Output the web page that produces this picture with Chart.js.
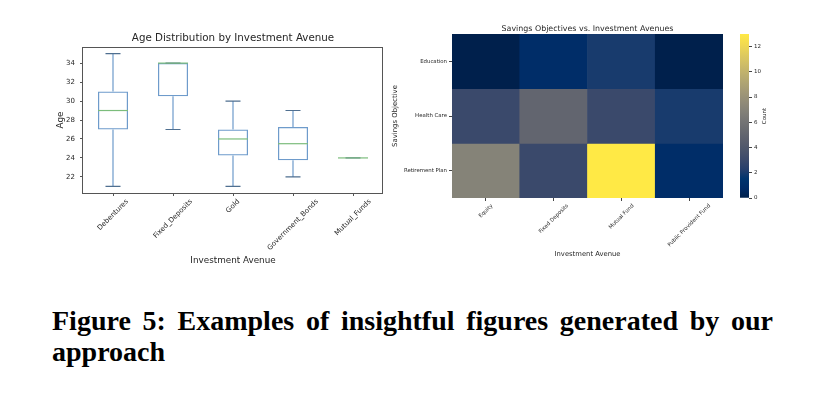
<!DOCTYPE html>
<html>
<head>
<meta charset="utf-8">
<script src="https://cdn.jsdelivr.net/npm/chart.js@4/dist/chart.umd.min.js"></script>
<style>
  body { margin: 0; background: #fff; width: 819px; height: 397px; overflow: hidden; position: relative; }
  canvas { position: absolute; top: 0; }
  #boxChart { left: 0; }
  #heatChart { left: 390px; }
  #cbarChart { left: 730px; }
  .caption {
    position: absolute; left: 52px; width: 721px;
    font-family: 'Liberation Serif', serif; font-weight: bold; font-size: 28px; line-height: 28px;
    white-space: nowrap; color: #000;
  }
</style>
</head>
<body>
<canvas id="boxChart" width="400" height="275"></canvas>
<canvas id="heatChart" width="340" height="275"></canvas>
<canvas id="cbarChart" width="89" height="275"></canvas>
<div class="caption" id="capLine1" style="top:307px"><span>Figure 5: Examples of insightful figures generated by our</span></div>
<div class="caption" id="capLine2" style="top:338px"><span>approach</span></div>

<script>
// ===== DATA =====
const boxCategories = ['Debentures', 'Fixed_Deposits', 'Gold', 'Government_Bonds', 'Mutual_Funds'];
const ageMin    = [21, 27,   21,    22,    24];
const ageQ1     = [27, 30.5, 24.25, 23.75, 24];
const ageMedian = [29, 34,   26,    25.5,  24];
const ageQ3     = [31, 34,   27,    27.25, 24];
const ageMax    = [35, 34,   30,    29,    24];
const ageTicks  = [22, 24, 26, 28, 30, 32, 34];

const avenues = ['Equity', 'Fixed Deposits', 'Mutual Fund', 'Public Provident Fund'];
const objectives = ['Education', 'Health Care', 'Retirement Plan'];
const countsEducation  = [0, 1, 2, 0];
const countsHealthCare = [3, 5, 3, 2];
const countsRetirement = [7, 3, 13, 1];
const countTicks = [0, 2, 4, 6, 8, 10, 12];

const countRows = [countsEducation, countsHealthCare, countsRetirement];
const countMax = Math.max(...countRows.flat());

// ===== CIVIDIS COLORMAP =====
const cividisStops = [
    [0, 32, 76], [0, 42, 102], [0, 52, 110], [39, 63, 108], [60, 74, 107], [76, 85, 107],
    [91, 95, 109], [104, 106, 112], [117, 117, 117], [131, 129, 120], [146, 140, 120],
    [161, 152, 118], [176, 165, 114], [192, 177, 109], [209, 191, 102], [225, 204, 92],
    [243, 219, 79], [255, 233, 69]
];
function cividis(t) {
    t = Math.min(1, Math.max(0, t));
    const pos = t * (cividisStops.length - 1);
    const i = Math.min(Math.floor(pos), cividisStops.length - 2);
    const f = pos - i;
    const a = cividisStops[i], b = cividisStops[i + 1];
    const c = a.map((v, k) => Math.round(v + (b[k] - v) * f));
    return `rgb(${c[0]},${c[1]},${c[2]})`;
}

const TEXT = '#262626';
const FONT = 'DejaVu Sans';

// ===== PLUGINS =====
// Title centred over the plot area
const plotTitle = {
    id: 'plotTitle',
    afterDraw(chart, args, opts) {
        const { ctx, chartArea } = chart;
        ctx.save();
        ctx.font = `${opts.size}px ${FONT}`;
        ctx.fillStyle = TEXT;
        ctx.textAlign = 'center';
        ctx.textBaseline = 'middle';
        ctx.fillText(opts.text, (chartArea.left + chartArea.right) / 2, opts.y);
        ctx.restore();
    }
};

// matplotlib-style 45 degree labels, centred under their ticks
const rotatedLabels = {
    id: 'rotatedLabels',
    afterDraw(chart, args, opts) {
        const { ctx } = chart;
        const scale = chart.scales.x;
        ctx.save();
        ctx.font = `${opts.size}px ${FONT}`;
        ctx.fillStyle = TEXT;
        ctx.textAlign = 'center';
        ctx.textBaseline = 'middle';
        opts.labels.forEach((label, i) => {
            const w = ctx.measureText(label).width;
            const ext = (w + opts.size) * Math.SQRT1_2;
            const x = scale.getPixelForTick(i);
            const y = scale.top + opts.pad + ext / 2;
            ctx.save();
            ctx.translate(x, y);
            ctx.rotate(-Math.PI / 4);
            ctx.fillText(label, 0, 0);
            ctx.restore();
        });
        ctx.restore();
    }
};

// Whiskers, caps and medians for the box plot
const boxExtras = {
    id: 'boxExtras',
    afterDatasetsDraw(chart) {
        const { ctx, chartArea } = chart;
        const { x, y } = chart.scales;
        const step = x.getPixelForValue(1) - x.getPixelForValue(0);
        const capHalf = step * 0.125;
        const boxHalf = step * 0.25;
        ctx.save();
        ctx.lineWidth = 1.2;
        boxCategories.forEach((cat, i) => {
            const cx = x.getPixelForValue(i);
            // whiskers
            ctx.strokeStyle = '#6e9bcb';
            ctx.beginPath();
            ctx.moveTo(cx, y.getPixelForValue(ageMin[i]));
            ctx.lineTo(cx, y.getPixelForValue(ageQ1[i]));
            ctx.moveTo(cx, y.getPixelForValue(ageQ3[i]));
            ctx.lineTo(cx, y.getPixelForValue(ageMax[i]));
            ctx.stroke();
            // caps
            ctx.strokeStyle = '#4f6f90';
            ctx.beginPath();
            [ageMin[i], ageMax[i]].forEach(v => {
                const py = y.getPixelForValue(v);
                ctx.moveTo(cx - capHalf, py);
                ctx.lineTo(cx + capHalf, py);
            });
            ctx.stroke();
            // median
            ctx.strokeStyle = '#7cbd7c';
            ctx.beginPath();
            const my = y.getPixelForValue(ageMedian[i]);
            ctx.moveTo(cx - boxHalf, my);
            ctx.lineTo(cx + boxHalf, my);
            ctx.stroke();
        });
        // frame
        ctx.strokeStyle = '#555';
        ctx.lineWidth = 1;
        ctx.strokeRect(Math.round(chartArea.left) - 0.5, Math.round(chartArea.top) + 0.5,
            Math.round(chartArea.right - chartArea.left), Math.round(chartArea.bottom - chartArea.top));
        ctx.restore();
    }
};

// Colorbar label, reading bottom to top
const sideLabel = {
    id: 'sideLabel',
    afterDraw(chart, args, opts) {
        const { ctx, chartArea } = chart;
        ctx.save();
        ctx.font = `${opts.size}px ${FONT}`;
        ctx.fillStyle = TEXT;
        ctx.textAlign = 'center';
        ctx.textBaseline = 'middle';
        ctx.translate(opts.x, (chartArea.top + chartArea.bottom) / 2);
        ctx.rotate(-Math.PI / 2);
        ctx.fillText(opts.text, 0, 0);
        ctx.restore();
    }
};

// ===== BOX PLOT =====
new Chart(document.getElementById('boxChart'), {
    type: 'bar',
    data: {
        labels: boxCategories,
        datasets: [{
            data: boxCategories.map((c, i) => [ageQ1[i], ageQ3[i]]),
            backgroundColor: 'rgba(255,255,255,0)',
            borderColor: '#6e9bcb',
            borderWidth: 1.2,
            borderSkipped: false,
            barPercentage: 0.5,
            categoryPercentage: 1
        }]
    },
    options: {
        responsive: false,
        animation: false,
        layout: { padding: { left: 55, top: 47, right: 17, bottom: 9 } },
        plugins: {
            legend: { display: false },
            tooltip: { enabled: false },
            plotTitle: { text: 'Age Distribution by Investment Avenue', size: 10.3, y: 38.5 },
            rotatedLabels: { labels: boxCategories, size: 7, pad: 5 }
        },
        scales: {
            x: {
                grid: { display: true, drawOnChartArea: false, drawTicks: true, tickLength: 3, color: '#555', offset: false },
                border: { display: false },
                ticks: { display: false },
                title: { display: true, text: 'Investment Avenue', color: TEXT, font: { family: FONT, size: 8.8 }, padding: 0 },
                afterFit: (s) => { s.height = 73; }
            },
            y: {
                min: 20.3,
                max: 35.7,
                afterBuildTicks: (s) => { s.ticks = ageTicks.map(v => ({ value: v })); },
                grid: { display: true, drawOnChartArea: false, drawTicks: true, tickLength: 3, color: '#555' },
                border: { display: false },
                ticks: { color: TEXT, font: { family: FONT, size: 7 }, padding: 5 },
                title: { display: true, text: 'Age', color: TEXT, font: { family: FONT, size: 8.8 }, padding: 0 },
                afterFit: (s) => { s.width = 28; }
            }
        }
    },
    plugins: [plotTitle, rotatedLabels, boxExtras]
});

// ===== HEATMAP =====
new Chart(document.getElementById('heatChart'), {
    type: 'bar',
    data: {
        labels: avenues,
        datasets: objectives.map((obj, r) => ({
            label: obj,
            data: avenues.map(() => [r - 0.5, r + 0.5]),
            backgroundColor: countRows[r].map(c => cividis(c / countMax)),
            borderWidth: 0,
            barPercentage: 1,
            categoryPercentage: 1,
            grouped: false
        }))
    },
    options: {
        responsive: false,
        animation: false,
        layout: { padding: { left: 1, top: 34, right: 7, bottom: 17 } },
        plugins: {
            legend: { display: false },
            tooltip: { enabled: false },
            plotTitle: { text: 'Savings Objectives vs. Investment Avenues', size: 7.9, y: 28.5 },
            rotatedLabels: { labels: avenues, size: 5.4, pad: 5 }
        },
        scales: {
            x: {
                grid: { display: true, drawOnChartArea: false, drawTicks: true, tickLength: 3, color: '#444', offset: false },
                border: { display: false },
                ticks: { display: false },
                title: { display: true, text: 'Investment Avenue', color: TEXT, font: { family: FONT, size: 6.8 }, padding: 0 },
                afterFit: (s) => { s.height = 60; }
            },
            y: {
                min: -0.5,
                max: 2.5,
                reverse: true,
                afterBuildTicks: (s) => { s.ticks = objectives.map((o, i) => ({ value: i })); },
                grid: { display: true, drawOnChartArea: false, drawTicks: true, tickLength: 3, color: '#444' },
                border: { display: false },
                ticks: { color: TEXT, font: { family: FONT, size: 5.4 }, padding: 2, callback: (v) => objectives[v] },
                title: { display: true, text: 'Savings Objective', color: TEXT, font: { family: FONT, size: 6.9 }, padding: 0 },
                afterFit: (s) => { s.width = 61; }
            }
        }
    },
    plugins: [plotTitle, rotatedLabels]
});

// ===== COLORBAR =====
new Chart(document.getElementById('cbarChart'), {
    type: 'bar',
    data: {
        labels: ['Count'],
        datasets: [{
            data: [[0, countMax]],
            backgroundColor: (c) => {
                const area = c.chart.chartArea;
                if (!area) return cividis(0.5);
                const g = c.chart.ctx.createLinearGradient(0, area.bottom, 0, area.top);
                cividisStops.forEach((s, i) => g.addColorStop(i / (cividisStops.length - 1), `rgb(${s[0]},${s[1]},${s[2]})`));
                return g;
            },
            borderWidth: 0,
            barPercentage: 1,
            categoryPercentage: 1
        }]
    },
    options: {
        responsive: false,
        animation: false,
        layout: { padding: { left: 10, top: 34, right: 50, bottom: 77 } },
        plugins: {
            legend: { display: false },
            tooltip: { enabled: false },
            sideLabel: { text: 'Count', size: 5.5, x: 35 }
        },
        scales: {
            x: { display: false },
            y: {
                position: 'right',
                min: 0,
                max: countMax,
                afterBuildTicks: (s) => { s.ticks = countTicks.map(v => ({ value: v })); },
                grid: { display: true, drawOnChartArea: false, drawTicks: true, tickLength: 3, color: '#444' },
                border: { display: false },
                ticks: { color: TEXT, font: { family: FONT, size: 5.5 }, padding: 2 },
                afterFit: (s) => { s.width = 20; }
            }
        }
    },
    plugins: [sideLabel]
});

// ===== CAPTION JUSTIFY =====
function justifyCaption() {
    const span = document.querySelector('#capLine1 span');
    span.style.wordSpacing = '0px';
    const gaps = span.textContent.split(' ').length - 1;
    const extra = (721 - span.getBoundingClientRect().width) / gaps;
    span.style.wordSpacing = extra + 'px';
}
justifyCaption();
if (document.fonts) document.fonts.ready.then(justifyCaption);
</script>
</body>
</html>
